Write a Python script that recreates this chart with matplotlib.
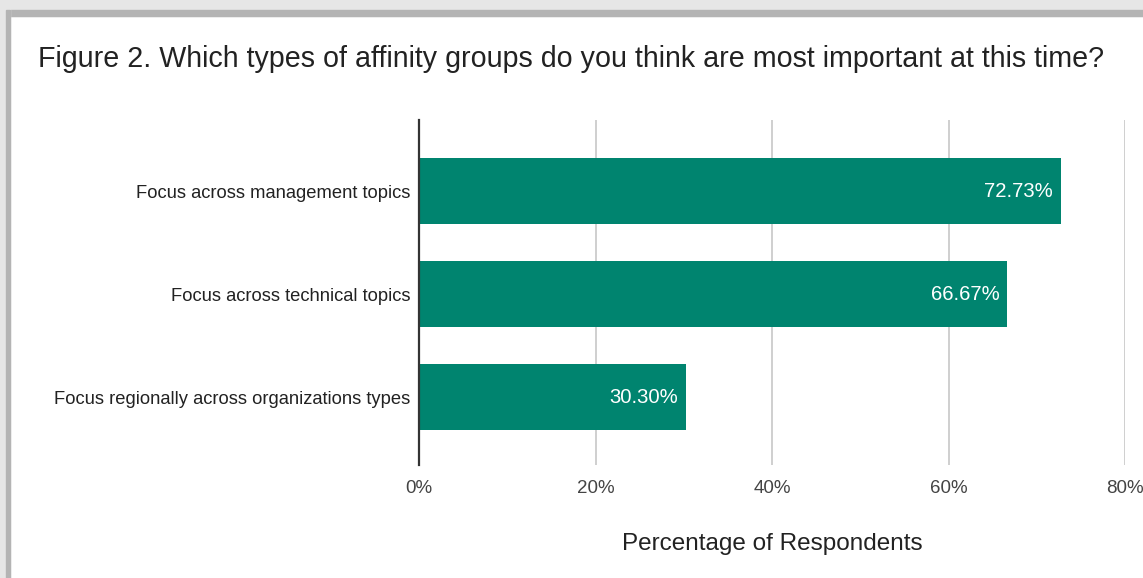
import matplotlib.pyplot as plt
from matplotlib.patches import Rectangle

plt.rcParams['font.family'] = ['Liberation Sans', 'DejaVu Sans']

# Data
categories = ["Focus across management topics",
              "Focus across technical topics",
              "Focus regionally across organizations types"]
values = [72.73, 66.67, 30.30]
value_labels = ["72.73%", "66.67%", "30.30%"]
xticks = [0, 20, 40, 60, 80]
xtick_labels = ["0%", "20%", "40%", "60%", "80%"]

W, H = 1143, 578
fig = plt.figure(figsize=(W / 100, H / 100), dpi=100)

# screenshot frame (gray shadow on top and left)
fig.patches.append(Rectangle((0, 1 - 16 / H), 1, 16 / H, transform=fig.transFigure,
                             color="#e6e6e6", zorder=0))
fig.patches.append(Rectangle((0, 1 - 16 / H), 1, 6 / H, transform=fig.transFigure,
                             color="#b4b4b4", zorder=0))
fig.patches.append(Rectangle((0, 0), 10 / W, 1, transform=fig.transFigure,
                             color="#e6e6e6", zorder=0))
fig.patches.append(Rectangle((6 / W, 0), 4 / W, 1 - 10 / H, transform=fig.transFigure,
                             color="#b4b4b4", zorder=0))

left, right = 419 / W, 1125 / W
top, bottom = 1 - 120 / H, 1 - 465 / H
ax = fig.add_axes([left, bottom, right - left, top - bottom])

y = list(range(len(categories)))
ax.barh(y, values, height=0.64, color="#00846f", zorder=2)
for yi, v, lab in zip(y, values, value_labels):
    ax.text(v - 0.9, yi, lab, ha="right", va="center", color="white",
            fontsize=14.6, zorder=3)

ax.set_xlim(0, 80)
ax.set_ylim(2.66, -0.69)
ax.set_yticks(y)
ax.set_yticklabels(categories, fontsize=13.2, color="#222222")
ax.set_xticks(xticks)
ax.set_xticklabels(xtick_labels, fontsize=13.5, color="#444444")
ax.tick_params(axis="both", length=0)
ax.tick_params(axis="y", pad=6)
ax.tick_params(axis="x", pad=11)
ax.grid(axis="x", color="#cccccc", linewidth=1.3, zorder=0)
for s in ["top", "right", "bottom"]:
    ax.spines[s].set_visible(False)
ax.spines["left"].set_color("#333333")
ax.spines["left"].set_linewidth(1.6)
ax.spines["left"].set_zorder(4)
ax.set_xlabel("Percentage of Respondents", fontsize=17.5, color="#222222", labelpad=26)

fig.text(38 / W, 1 - 59 / H,
         "Figure 2. Which types of affinity groups do you think are most important at this time?",
         fontsize=20.6, color="#222222", ha="left", va="center")

plt.savefig("out.png", dpi=100)
